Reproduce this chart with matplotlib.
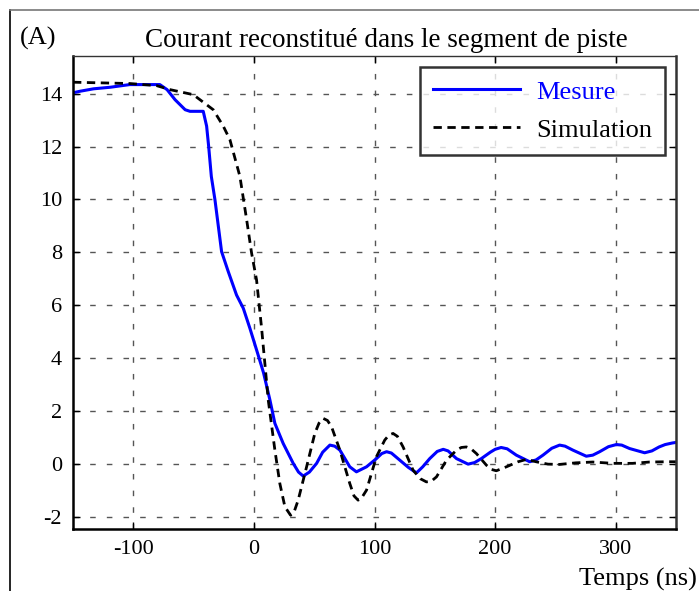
import matplotlib
matplotlib.use("Agg")
import matplotlib.pyplot as plt
from matplotlib.lines import Line2D

# --- data ---
t_mes = [-150, -144, -133, -119, -103, -78, -72, -65.4, -57, -53, -42, -39.2, -37.5, -35.3,
         -32.3, -26.8, -21.3, -14.4, -8.8, -3.3, 3, 8, 13.3, 17.4, 24.3, 32.6, 37, 40.9, 46,
         52, 57, 63, 67, 71.3, 79.5, 85, 93.4, 101.6, 106, 110, 114, 121, 128, 134.8, 140,
         145.8, 152, 157, 161, 168, 177.6, 183, 188.6, 196, 200, 205, 210, 217.6, 228.7,
         234, 239.7, 247, 253.5, 258, 264.5, 275.6, 281, 286.7, 294, 300.5, 305, 311.5, 324,
         330, 336, 341, 347, 350]
v_mes = [14.03, 14.09, 14.18, 14.24, 14.34, 14.34, 14.15, 13.77, 13.39, 13.33, 13.33, 12.77,
         12.0, 10.87, 9.99, 8.03, 7.28, 6.39, 5.89, 5.13, 4.2, 3.45, 2.42, 1.54, 0.78, 0.03,
         -0.3, -0.45, -0.3, 0.03, 0.45, 0.72, 0.68, 0.53, -0.1, -0.29, -0.1, 0.21, 0.4, 0.47,
         0.42, 0.15, -0.12, -0.33, -0.1, 0.21, 0.48, 0.56, 0.5, 0.21, 0.0, 0.06, 0.21, 0.45,
         0.56, 0.63, 0.58, 0.34, 0.09, 0.16, 0.34, 0.6, 0.72, 0.68, 0.53, 0.3, 0.34, 0.47,
         0.66, 0.74, 0.72, 0.59, 0.43, 0.5, 0.65, 0.74, 0.8, 0.82]

t_sim = [-150, -103, -80.6, -69.6, -50.3, -33.7, -25.4, -19.9, -11.6, -6, -1.9, 2.2, 6.4,
         11.9, 17.4, 21.5, 25.7, 30.4, 33, 36.7, 43.7, 50.5, 54, 57.4, 61, 64.4, 71.3, 79.5,
         83, 86.4, 89, 93.4, 101.6, 108.5, 112, 115.4, 119, 123.7, 132, 138, 143, 147, 151.4,
         159.7, 168, 172, 176.2, 180, 184.5, 192.8, 197, 201, 209.4, 219, 226, 234, 243.8,
         253.5, 267, 281, 297.7, 314, 328, 342, 353]
v_sim = [14.43, 14.38, 14.3, 14.15, 13.96, 13.39, 12.77, 12.26, 10.87, 9.23, 7.97, 6.96, 5.13,
         2.42, 0.53, -0.73, -1.61, -1.93, -1.85, -1.36, -0.1, 1.16, 1.55, 1.73, 1.65, 1.41,
         0.53, -0.73, -1.2, -1.36, -1.3, -0.98, 0.28, 0.91, 1.1, 1.16, 1.05, 0.65, -0.23,
         -0.55, -0.67, -0.65, -0.48, 0.15, 0.53, 0.63, 0.65, 0.58, 0.4, -0.04, -0.2, -0.25,
         -0.1, 0.09, 0.18, 0.09, 0.0, -0.01, 0.05, 0.08, 0.03, 0.03, 0.08, 0.09, 0.09]

x_ticks = [-100, 0, 100, 200, 300]
y_ticks = [-2, 0, 2, 4, 6, 8, 10, 12, 14]
labels = ["Mesure", "Simulation"]

plt.rcParams['font.family'] = ['Liberation Serif', 'DejaVu Serif']

W, H = 699, 591
fig = plt.figure(figsize=(W / 100, H / 100), dpi=100)
ax = fig.add_axes([73 / W, 1 - 529 / H, (676 - 73) / W, (529 - 56) / H])

ax.plot(t_mes, v_mes, color='#0000ff', lw=2.2, label=labels[0])
ax.plot(t_sim, v_sim, color='black', lw=2.0, linestyle=(0, (3, 2)), label=labels[1])

ax.set_xlim(-150, 350)
ax.set_ylim(-2.45, 15.42)
ax.set_xticks(x_ticks)
ax.set_yticks(y_ticks)
ax.set_xticklabels([str(v) for v in x_ticks])
ax.set_yticklabels([str(v) for v in y_ticks])
ax.tick_params(direction='in', length=5, width=1, labelsize=16, top=True, right=True, pad=8)
ax.grid(True, color='#555555', lw=1, linestyle=(0, (4, 8)))

for s in ['left', 'bottom']:
    ax.spines[s].set_linewidth(1.8)
    ax.spines[s].set_color('black')
ax.spines['right'].set_linewidth(1.8)
ax.spines['right'].set_color('#333333')
ax.spines['top'].set_linewidth(1.0)
ax.spines['top'].set_color('#333333')

leg = ax.legend(loc='upper right', bbox_to_anchor=(665 / W, 1 - 67 / H),
                bbox_transform=fig.transFigure, fontsize=19, frameon=True, fancybox=False,
                edgecolor='black', handlelength=3.3, handletextpad=0.6, labelspacing=0.55,
                borderpad=0.5, borderaxespad=0, labelcolor='linecolor')
leg.get_frame().set_linewidth(1.8)

fig.text(386 / W, 1 - 47 / H, "Courant reconstitué dans le segment de piste",
         ha='center', va='baseline', fontsize=19.5)
fig.text(20 / W, 1 - 45 / H, "(A)", ha='left', va='baseline', fontsize=19)
fig.text(697 / W, 1 - 586 / H, "Temps (ns)", ha='right', va='baseline', fontsize=19)

# outer frame
fig.add_artist(Line2D([10 / W, 10 / W], [0, 1 - 10 / H], transform=fig.transFigure,
                      color='black', lw=1.2))
fig.add_artist(Line2D([10 / W, 1], [1 - 10 / H, 1 - 10 / H], transform=fig.transFigure,
                      color='#777777', lw=1.2))

fig.savefig("out.png", dpi=100)
